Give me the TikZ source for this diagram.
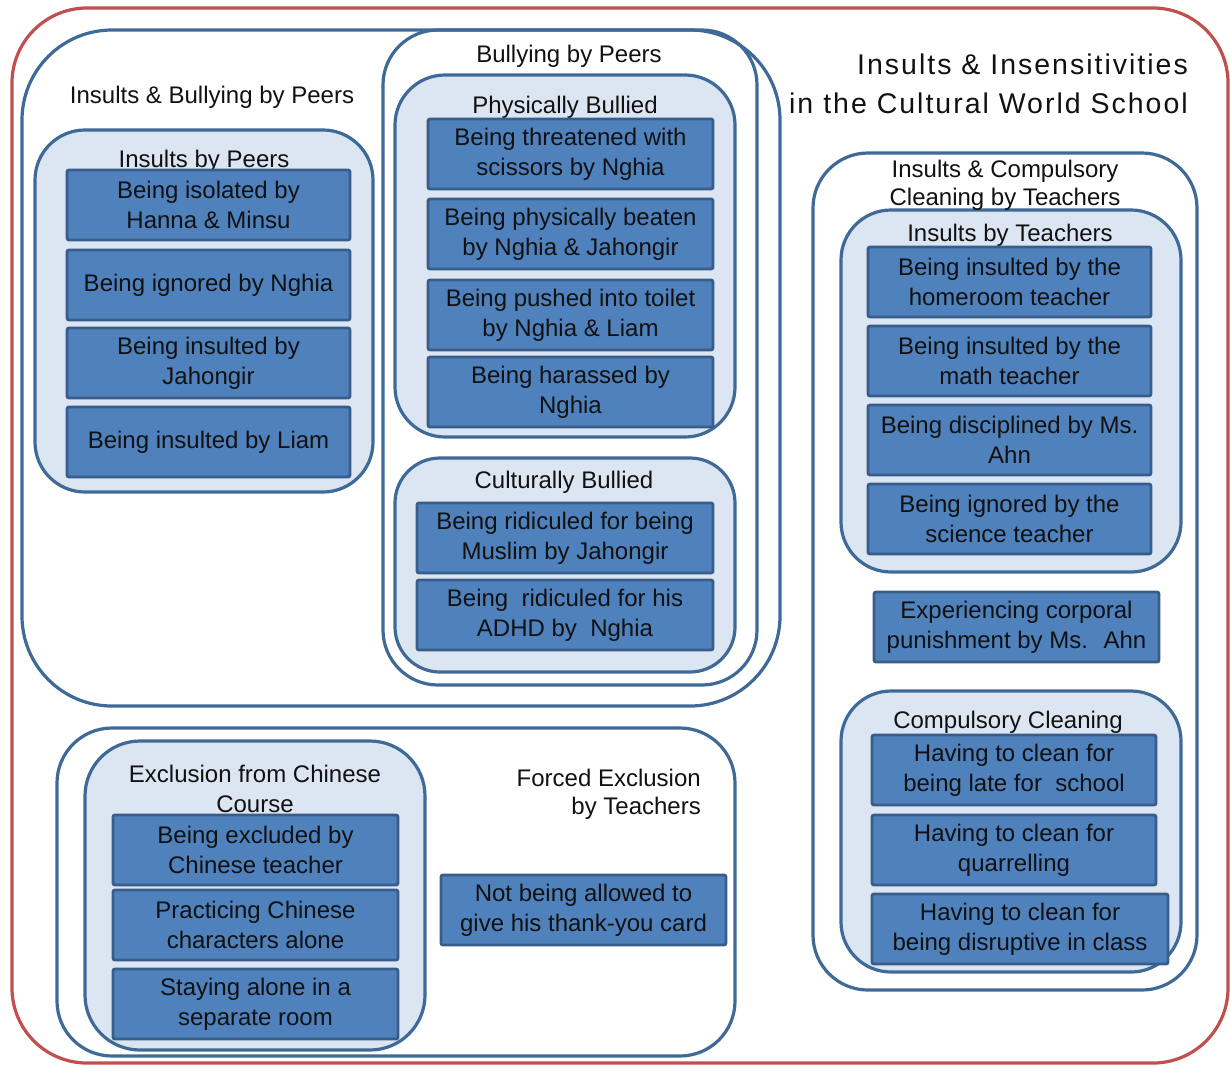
\documentclass[tikz,border=0pt]{standalone}
\usepackage{fontspec}
\setmainfont{Liberation Sans}
\newfontfamily\titlefont[LetterSpace=7]{Liberation Sans}
\definecolor{cblue}{HTML}{3F6A98}
\definecolor{lfill}{HTML}{DCE6F2}
\definecolor{ifill}{HTML}{4F81BD}
\definecolor{iblue}{HTML}{385D8A}
\definecolor{ored}{HTML}{C0504D}
\definecolor{txt}{HTML}{111111}
\begin{document}
\begin{tikzpicture}[x=1pt,y=-1pt,
  cont/.style={draw=cblue, line width=3.2pt, inner sep=0pt, outer sep=0pt},
  contf/.style={cont, fill=lfill},
  item/.style={draw=iblue, fill=ifill, line width=2.8pt, rounded corners=2pt, inner sep=0pt,
    minimum height=70pt, align=center, text=txt, font=\fontsize{24}{30}\selectfont},
  lbl/.style={align=center, text=txt, font=\fontsize{24}{28}\selectfont, inner sep=0pt}]
\useasboundingbox (0,0) rectangle (1230,1066);
% outer frame
\draw[draw=ored, line width=3.2pt, rounded corners=75pt] (12,8) rectangle (1228,1063);
\node[lbl, align=right, anchor=east, font=\titlefont\fontsize{28.5}{39}\selectfont] (title) at (1188,84)
  {Insults \& Insensitivities\\in the Cultural World School};
% containers (left, peers)
\node[cont, rounded corners=90pt, minimum width=758pt, minimum height=676pt] (ibbp) at (401,368) {};
\node[cont, rounded corners=55pt, minimum width=374pt, minimum height=655pt] (bbp) at (570,357.5) {};
\node[contf, rounded corners=50pt, minimum width=340pt, minimum height=362pt] (phys) at (565,256) {};
\node[contf, rounded corners=45pt, minimum width=340pt, minimum height=214pt] (cult) at (565,565) {};
\node[contf, rounded corners=50pt, minimum width=338pt, minimum height=362pt] (ibp) at (204,311) {};
% containers (teachers)
\node[cont, rounded corners=55pt, minimum width=384pt, minimum height=837pt] (icct) at (1005,571.5) {};
\node[contf, rounded corners=50pt, minimum width=340pt, minimum height=362pt] (ibt) at (1011,391) {};
\node[contf, rounded corners=50pt, minimum width=340pt, minimum height=281pt] (cc) at (1011,831.5) {};
% containers (exclusion)
\node[cont, rounded corners=55pt, minimum width=678pt, minimum height=328pt] (fet) at (396,892) {};
\node[contf, rounded corners=55pt, minimum width=340pt, minimum height=309pt] (efc) at (255,895.5) {};
% labels
\node[lbl] (l-ibbp) at (212,97) {Insults \& Bullying by Peers};
\node[lbl] (l-bbp) at (569,56) {Bullying by Peers};
\node[lbl] (l-phys) at (565,107) {Physically Bullied};
\node[lbl] (l-ibp) at (204,161) {Insults by Peers};
\node[lbl] (l-cult) at (564,482) {Culturally Bullied};
\node[lbl] (l-icct) at (1005,185) {Insults \& Compulsory\\Cleaning by Teachers};
\node[lbl] (l-ibt) at (1010,235) {Insults by Teachers};
\node[lbl] (l-cc) at (1008,722) {Compulsory Cleaning};
\node[lbl, font=\fontsize{24}{30}\selectfont] (l-efc) at (255,789) {Exclusion from Chinese\\Course};
\node[lbl, align=right, anchor=east] (l-fet) at (701,794) {Forced Exclusion\\by Teachers};
% items: insults by peers
\node[item, minimum width=283pt] (p1) at (208.5,205) {Being isolated by\\Hanna \& Minsu};
\node[item, minimum width=283pt] (p2) at (208.5,285) {Being ignored by Nghia};
\node[item, minimum width=283pt] (p3) at (208.5,363) {Being insulted by\\Jahongir};
\node[item, minimum width=283pt] (p4) at (208.5,442) {Being insulted by Liam};
% physically bullied
\node[item, minimum width=285pt] (b1) at (570.5,154) {Being threatened with\\scissors by Nghia};
\node[item, minimum width=285pt] (b2) at (570.5,234) {Being physically beaten\\by Nghia \& Jahongir};
\node[item, minimum width=285pt] (b3) at (570.5,315) {Being pushed into toilet\\by Nghia \& Liam};
\node[item, minimum width=285pt] (b4) at (570.5,392) {Being harassed by\\Nghia};
% culturally bullied
\node[item, minimum width=296pt] (c1) at (565,538) {Being ridiculed for being\\Muslim by Jahongir};
\node[item, minimum width=296pt] (c2) at (565,615) {Being~ ridiculed for his\\ADHD by~ Nghia};
% insults by teachers
\node[item, minimum width=283pt] (t1) at (1009.5,282) {Being insulted by the\\homeroom teacher};
\node[item, minimum width=283pt] (t2) at (1009.5,361) {Being insulted by the\\math teacher};
\node[item, minimum width=283pt] (t3) at (1009.5,440) {Being disciplined by Ms.\\Ahn};
\node[item, minimum width=283pt] (t4) at (1009.5,519) {Being ignored by the\\science teacher};
\node[item, minimum width=285pt] (t5) at (1016.5,627) {Experiencing corporal\\punishment by Ms.~ Ahn};
% compulsory cleaning
\node[item, minimum width=284pt] (k1) at (1014,770) {Having to clean for\\being late for~ school};
\node[item, minimum width=284pt] (k2) at (1014,850) {Having to clean for\\quarrelling};
\node[item, minimum width=296pt] (k3) at (1020,929) {Having to clean for\\being disruptive in class};
% exclusion
\node[item, minimum width=285pt] (e1) at (255.5,850) {Being excluded by\\Chinese teacher};
\node[item, minimum width=285pt] (e2) at (255.5,925) {Practicing Chinese\\characters alone};
\node[item, minimum width=285pt] (e3) at (255.5,1004) {Staying alone in a\\separate room};
\node[item, minimum width=285pt] (f1) at (583.5,910) {Not being allowed to\\give his thank-you card};
\end{tikzpicture}
\end{document}
